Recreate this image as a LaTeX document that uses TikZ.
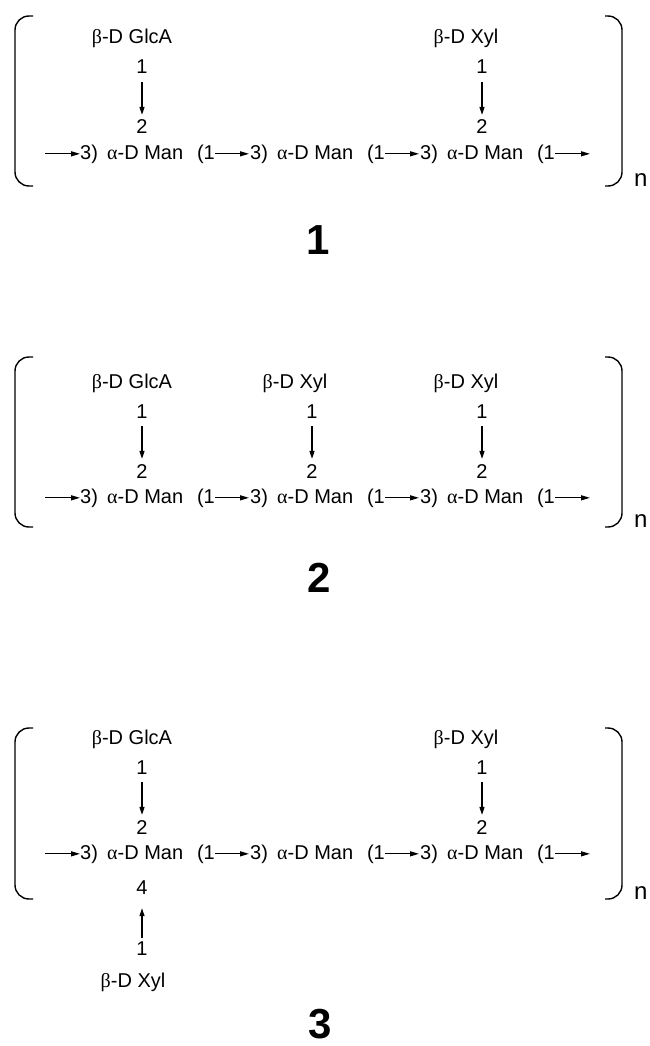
\documentclass[tikz,border=0pt]{standalone}
\usepackage{fontspec}
\setmainfont{Liberation Sans}
\newfontfamily\grk{Liberation Serif}
\usetikzlibrary{arrows.meta}
\tikzset{
  txt/.style={inner sep=0pt, font=\fontsize{20}{24}\selectfont},
  bignum/.style={inner sep=0pt, font=\fontsize{42}{48}\selectfont\bfseries},
  nlab/.style={inner sep=0pt, font=\fontsize{24}{28}\selectfont},
  link/.style={line width=1.2pt, -{Triangle[length=9pt,width=5pt]}},
  sublink/.style={line width=1.1pt, -{Triangle[length=8pt,width=5pt]}},
  brk/.style={line width=1.4pt, rounded corners=14pt},
}
\newcommand\mychain[2]{%
  \foreach \k in {0,1,2}{
    \node[txt, anchor=base west] (#1t\k) at ({80+170*\k},#2) {3)};
    \node[txt, anchor=base west] (#1m\k) at ({107+170*\k},#2) {{\grk α}-D Man};
    \node[txt, anchor=base east] (#1o\k) at ({215+170*\k},#2) {(1};
  }
  \coordinate (#1s) at ([xshift=-35pt]#1t0.west);
  \coordinate (#1e) at ([xshift=35pt]#1o2.east);
  \draw[link] (#1s) -- (#1t0.west);
  \draw[link, shorten >=1pt] (#1o0.east) -- (#1o0.east -| #1t1.west);
  \draw[link, shorten >=1pt] (#1o1.east) -- (#1o1.east -| #1t2.west);
  \draw[link] (#1o2.east) -- (#1e);
}
\newcommand\mysubst[5]{%
  \node[txt, anchor=base] (#1lab) at (#3,{#4-115}) {#5};
  \node[txt, anchor=base] (#1one) at (#2,{#4-85}) {1};
  \node[txt, anchor=base] (#1two) at (#2,{#4-25}) {2};
  \draw[sublink, shorten <=8pt, shorten >=5pt] (#1one) -- (#1two);
}
\newcommand\mybrackets[3]{%
  \draw[brk] (33,#1) -- (15,#1) -- (15,#2) -- (33,#2);
  \draw[brk] (605,#1) -- (622,#1) -- (622,#2) -- (605,#2);
  \node[nlab, anchor=base west] (#3n) at (634,#2) {n};
}
\begin{document}
\begin{tikzpicture}[x=1pt,y=-1pt]
\useasboundingbox (0,0) rectangle (649,1046);
% structure 1
\mybrackets{16}{186}{a}
\mychain{a}{159}
\mysubst{aA}{142}{132}{159}{{\grk β}-D GlcA}
\mysubst{aC}{482}{466}{159}{{\grk β}-D Xyl}
\node[bignum] (num1) at (318,240) {1};
% structure 2
\mybrackets{357}{527}{b}
\mychain{b}{503}
\mysubst{bA}{142}{132}{503}{{\grk β}-D GlcA}
\mysubst{bB}{312}{295}{503}{{\grk β}-D Xyl}
\mysubst{bC}{482}{466}{503}{{\grk β}-D Xyl}
\node[bignum] (num2) at (319,578) {2};
% structure 3
\mybrackets{728}{899}{c}
\mychain{c}{859}
\mysubst{cA}{142}{132}{859}{{\grk β}-D GlcA}
\mysubst{cC}{482}{466}{859}{{\grk β}-D Xyl}
\node[txt, anchor=base] (cfour) at (142,894) {4};
\node[txt, anchor=base] (cbone) at (142,955) {1};
\node[txt, anchor=base] (cblab) at (133,987) {{\grk β}-D Xyl};
\draw[sublink, shorten <=3pt, shorten >=14pt] (cbone) -- (cfour);
\node[bignum] (num3) at (320,1024) {3};
\end{tikzpicture}
\end{document}
